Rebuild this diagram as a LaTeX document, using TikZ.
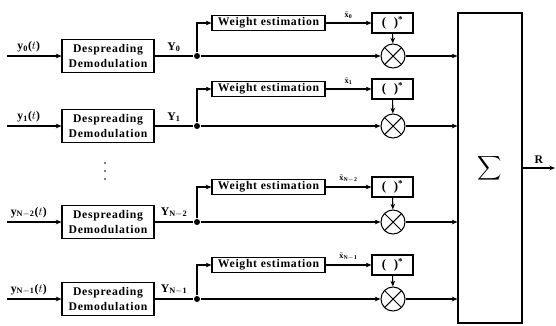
\documentclass[tikz,border=0pt]{standalone}
\usepackage{amsmath,amssymb}
\usepackage{fontspec}
\setmainfont{Liberation Serif}
\newfontfamily\blockfont[LetterSpace=6]{Liberation Serif}
\usetikzlibrary{positioning,arrows.meta}

\tikzset{
  dsblock/.style={draw,align=center,minimum width=2.76cm,minimum height=0.99cm,inner sep=0pt,font=\blockfont\bfseries\fontsize{10}{12}\selectfont},
  weblock/.style={draw,minimum width=3.39cm,minimum height=0.45cm,inner sep=0pt,font=\blockfont\bfseries\fontsize{10}{12}\selectfont},
  cjblock/.style={draw,minimum width=1.23cm,minimum height=0.6cm,inner sep=0pt,font=\bfseries\fontsize{11}{12}\selectfont},
  mult/.style={draw,circle,minimum size=0.72cm,inner sep=0pt,
    path picture={\draw (path picture bounding box.north west) -- (path picture bounding box.south east)
      (path picture bounding box.north east) -- (path picture bounding box.south west);}},
  sumblock/.style={draw,minimum width=1.92cm,minimum height=9.3cm,inner sep=0pt},
  junc/.style={circle,fill,inner sep=0pt,minimum size=1.8mm},
  lbl/.style={font=\bfseries\fontsize{10}{12}\selectfont,inner sep=3pt},
  xlbl/.style={font=\bfseries\scriptsize,inner sep=3pt}
}

\begin{document}
\begin{tikzpicture}[x=0.03cm,y=-0.03cm,>={Stealth[length=1.7mm,width=1.4mm]},line width=0.9pt]
\useasboundingbox (0,0) rectangle (556,325);
% combiner
\node[sumblock] (sum) at (490,168) {\Large$\displaystyle\sum$};
\coordinate (out) at (555,168);
\draw[->] (sum.east) -- (out) node[midway,above,lbl]{R};

% branch 0
\coordinate (in0) at (7,56);
\node[dsblock] (dd0) at (108,56) {Despreading\\Demodulation};
\node[junc] (j0) at (197,56) {};
\node[weblock] (we0) at (268.5,23) {Weight estimation};
\node[cjblock] (cj0) at (392.5,23) {(\hspace{0.6em})\textsuperscript{*}};
\node[mult] (mx0) at (393,56) {};
\draw[->] (in0) -- (dd0) node[pos=0.4,above,lbl]{y$_{\mathbf{0}}$($t$)};
\draw (dd0) -- (j0) node[midway,above,lbl]{Y$_{\mathbf{0}}$};
\draw[->] (j0) -- (mx0);
\draw[->] (j0) |- (we0);
\draw[->] (we0) -- (cj0) node[midway,above,xlbl]{$\tilde{\mathbf{x}}_{\mathbf{0}}$};
\draw[->] (cj0) -- (mx0);
\draw[->] (mx0) -- (mx0 -| sum.west);

% branch 1
\coordinate (in1) at (7,126);
\node[dsblock] (dd1) at (108,126) {Despreading\\Demodulation};
\node[junc] (j1) at (197,126) {};
\node[weblock] (we1) at (268.5,89) {Weight estimation};
\node[cjblock] (cj1) at (392.5,89) {(\hspace{0.6em})\textsuperscript{*}};
\node[mult] (mx1) at (393,126) {};
\draw[->] (in1) -- (dd1) node[pos=0.4,above,lbl]{y$_{\mathbf{1}}$($t$)};
\draw (dd1) -- (j1) node[midway,above,lbl]{Y$_{\mathbf{1}}$};
\draw[->] (j1) -- (mx1);
\draw[->] (j1) |- (we1);
\draw[->] (we1) -- (cj1) node[midway,above,xlbl]{$\tilde{\mathbf{x}}_{\mathbf{1}}$};
\draw[->] (cj1) -- (mx1);
\draw[->] (mx1) -- (mx1 -| sum.west);

% vertical ellipsis
\foreach \yy in {163,171,179} \fill (105,\yy) circle (0.8pt);

% branch N-2
\coordinate (in2) at (7,222);
\node[dsblock] (dd2) at (108,222) {Despreading\\Demodulation};
\node[junc] (j2) at (197,222) {};
\node[weblock] (we2) at (268.5,187) {Weight estimation};
\node[cjblock] (cj2) at (392.5,187) {(\hspace{0.6em})\textsuperscript{*}};
\node[mult] (mx2) at (393,222) {};
\draw[->] (in2) -- (dd2) node[pos=0.4,above,lbl]{y$_{\mathbf{N-2}}$($t$)};
\draw (dd2) -- (j2) node[midway,above,lbl]{Y$_{\mathbf{N-2}}$};
\draw[->] (j2) -- (mx2);
\draw[->] (j2) |- (we2);
\draw[->] (we2) -- (cj2) node[midway,above,xlbl]{$\tilde{\mathbf{x}}_{\mathbf{N-2}}$};
\draw[->] (cj2) -- (mx2);
\draw[->] (mx2) -- (mx2 -| sum.west);

% branch N-1
\coordinate (in3) at (7,299);
\node[dsblock] (dd3) at (108,299) {Despreading\\Demodulation};
\node[junc] (j3) at (197,299) {};
\node[weblock] (we3) at (268.5,265) {Weight estimation};
\node[cjblock] (cj3) at (392.5,265) {(\hspace{0.6em})\textsuperscript{*}};
\node[mult] (mx3) at (393,299) {};
\draw[->] (in3) -- (dd3) node[pos=0.4,above,lbl]{y$_{\mathbf{N-1}}$($t$)};
\draw (dd3) -- (j3) node[midway,above,lbl]{Y$_{\mathbf{N-1}}$};
\draw[->] (j3) -- (mx3);
\draw[->] (j3) |- (we3);
\draw[->] (we3) -- (cj3) node[midway,above,xlbl]{$\tilde{\mathbf{x}}_{\mathbf{N-1}}$};
\draw[->] (cj3) -- (mx3);
\draw[->] (mx3) -- (mx3 -| sum.west);
\end{tikzpicture}
\end{document}
